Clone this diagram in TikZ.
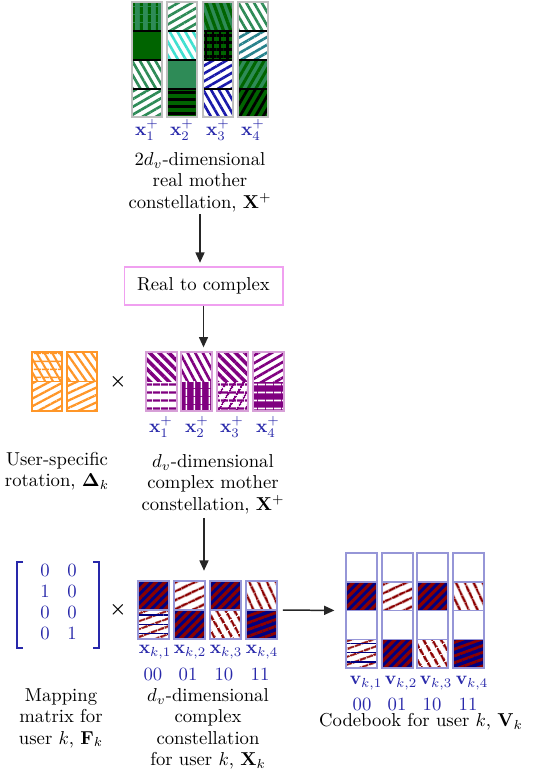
\documentclass[tikz,border=0pt]{standalone}
\usepackage{amsmath}
\usetikzlibrary{patterns.meta,arrows.meta,fit}
\definecolor{sgreen}{RGB}{46,139,87}
\definecolor{dgreen}{RGB}{0,100,0}
\definecolor{cyanl}{RGB}{64,224,208}
\definecolor{tealc}{RGB}{40,130,140}
\definecolor{bluec}{RGB}{25,25,170}
\definecolor{orangec}{RGB}{255,150,40}
\definecolor{purp}{RGB}{128,0,128}
\definecolor{purpl}{RGB}{215,160,215}
\definecolor{navyc}{RGB}{0,0,128}
\definecolor{dred}{RGB}{139,0,0}
\definecolor{lblue}{RGB}{150,150,215}
\definecolor{lblc}{RGB}{40,40,170}
\definecolor{pinkc}{RGB}{240,160,240}
\tikzset{
  pl/.style n args={4}{pattern={Lines[angle=#1,distance=#3,line width=#4]},pattern color=#2},
  np/.style={fill=none},
  arr/.style={line width=0.8pt,draw=black!85,-{Triangle[length=5.5pt,width=4.8pt]}},
  lbl/.style={text=lblc,inner sep=0pt},
  txt/.style={align=center,font=\fontsize{10}{11.5}\selectfont,inner sep=1pt},
}
\newcommand{\cbox}[7]{\fill[#5] (#1,#2) rectangle (#3,#4); \fill[#6] (#1,#2) rectangle (#3,#4); \fill[#7] (#1,#2) rectangle (#3,#4);}
\newcommand{\xkAa}[4]{\cbox{#1}{#2}{#3}{#4}{fill=navyc}{pl={45}{dred}{3.4pt}{1.7pt}}{np}}
\newcommand{\xkAb}[4]{\cbox{#1}{#2}{#3}{#4}{fill=white}{pl={20}{dred}{4pt}{1.4pt}}{pl={0}{navyc}{5pt}{0.7pt}}}
\newcommand{\xkBa}[4]{\cbox{#1}{#2}{#3}{#4}{fill=white}{pl={25}{dred}{4pt}{1.4pt}}{np}}
\newcommand{\xkCb}[4]{\cbox{#1}{#2}{#3}{#4}{fill=white}{pl={-60}{dred}{4pt}{1.5pt}}{np}}
\newcommand{\xkDa}[4]{\cbox{#1}{#2}{#3}{#4}{fill=white}{pl={-65}{dred}{4pt}{1.4pt}}{np}}
\newcommand{\xkDb}[4]{\cbox{#1}{#2}{#3}{#4}{fill=navyc}{pl={20}{dred}{3.4pt}{1.5pt}}{np}}
\begin{document}
\begin{tikzpicture}[x=0.535pt,y=-0.535pt]
\useasboundingbox (0,0) rectangle (542,774);
\fill[white] (0,0) rectangle (542,774);
% ---------- green mother constellation ----------
\cbox{132}{2}{162}{31}{fill=sgreen}{pl={90}{dgreen}{4pt}{1.7pt}}{np}
\cbox{132}{31}{162}{60}{fill=dgreen}{np}{np}
\cbox{132}{60}{162}{89}{fill=white}{pl={-60}{sgreen}{3.6pt}{1.4pt}}{np}
\cbox{132}{89}{162}{117}{fill=white}{pl={30}{sgreen}{3.6pt}{1.4pt}}{np}
\cbox{167}{2}{197}{31}{fill=white}{pl={30}{sgreen}{3.6pt}{1.4pt}}{np}
\cbox{167}{31}{197}{60}{fill=white}{pl={-60}{cyanl}{3.6pt}{1.4pt}}{np}
\cbox{167}{60}{197}{89}{fill=sgreen}{np}{np}
\cbox{167}{89}{197}{117}{fill=dgreen}{pl={0}{black}{3.8pt}{1.5pt}}{np}
\cbox{203}{2}{233}{31}{fill=sgreen}{pl={-70}{dgreen}{3.6pt}{1.7pt}}{np}
\cbox{203}{31}{233}{60}{fill=dgreen}{pl={0}{black}{3.8pt}{1.3pt}}{pl={90}{black}{3.8pt}{1.3pt}}
\cbox{203}{60}{233}{89}{fill=white}{pl={30}{bluec}{3.6pt}{1.4pt}}{np}
\cbox{203}{89}{233}{117}{fill=white}{pl={-60}{bluec}{3.6pt}{1.4pt}}{np}
\cbox{238}{2}{268}{31}{fill=white}{pl={-60}{sgreen}{3.6pt}{1.4pt}}{np}
\cbox{238}{31}{268}{60}{fill=white}{pl={30}{tealc}{3.6pt}{1.4pt}}{np}
\cbox{238}{60}{268}{89}{fill=sgreen}{pl={60}{dgreen}{3.6pt}{1.6pt}}{np}
\cbox{238}{89}{268}{117}{fill=dgreen}{pl={60}{black}{3.6pt}{1.5pt}}{np}
\foreach \x in {132,167,203,238}{
  \draw[black,line width=0.6pt] (\x,31) -- ++(30,0) (\x,60) -- ++(30,0) (\x,89) -- ++(30,0);
  \draw[gray!50,line width=1.4pt] (\x,2) rectangle ++(30,115);
}
\foreach \i/\x in {1/147,2/182,3/218,4/253}
  \node[lbl] (tl\i) at (\x,130) {$\mathbf{x}_{\i}^{+}$};
\node[txt] (toptext) at (200,182) {$2d_v$-dimensional\\real mother\\constellation, $\mathbf{X}^{+}$};
% ---------- real to complex ----------
\node[draw=pinkc,line width=0.6pt,minimum width=85pt,minimum height=20.3pt,inner sep=0pt] (r2c) at (203.5,286) {Real to complex};
% ---------- rotation (orange) ----------
\cbox{32}{352}{62}{381.5}{fill=white}{pl={-60}{orangec}{3.6pt}{1.1pt}}{pl={0}{orangec}{4pt}{0.9pt}}
\cbox{32}{381.5}{62}{411}{fill=white}{pl={28}{orangec}{3.6pt}{1.2pt}}{np}
\cbox{67}{352}{97}{381.5}{fill=white}{pl={-55}{orangec}{3.6pt}{1.2pt}}{np}
\cbox{67}{381.5}{97}{411}{fill=white}{pl={25}{orangec}{3.6pt}{1.2pt}}{np}
\foreach \x in {32,67}{
  \draw[orangec,line width=0.7pt] (\x,381.5) -- ++(30,0);
  \draw[orangec,line width=0.9pt] (\x,352) rectangle ++(30,59);
}
\node (times1) at (118,382) {$\boldsymbol{\times}$};
% ---------- purple complex mother constellation ----------
\cbox{146}{352}{177}{381.5}{fill=white}{pl={-45}{purp}{3.6pt}{1.9pt}}{np}
\cbox{146}{381.5}{177}{411}{fill=white}{pl={0}{purp}{4pt}{1.3pt}}{np}
\cbox{181}{352}{212}{381.5}{fill=white}{pl={-62}{purp}{3.6pt}{1.4pt}}{np}
\cbox{181}{381.5}{212}{411}{fill=purp}{pl={90}{white}{4pt}{0.8pt}}{np}
\cbox{217}{352}{248}{381.5}{fill=white}{pl={-45}{purp}{3.6pt}{1.9pt}}{np}
\cbox{217}{381.5}{248}{411}{fill=white}{pl={0}{purp}{4pt}{1.2pt}}{pl={60}{purp}{4pt}{1.2pt}}
\cbox{253}{352}{284}{381.5}{fill=white}{pl={30}{purp}{3.6pt}{1.4pt}}{np}
\cbox{253}{381.5}{284}{411}{fill=purp}{pl={0}{white}{4pt}{0.9pt}}{np}
\foreach \x in {146,181,217,253}
  \draw[purpl,line width=1.2pt] (\x,352) rectangle ++(31,59);
\coordinate (cmtop) at (215,352);
\foreach \i/\x in {1/161,2/197,3/232,4/268}
  \node[lbl] (ml\i) at (\x,427) {$\mathbf{x}_{\i}^{+}$};
\node[txt] (rottext) at (57,471) {User-specific\\rotation, $\boldsymbol{\Delta}_k$};
\node[txt] (cmtext) at (213,484) {$d_v$-dimensional\\complex mother\\constellation, $\mathbf{X}^{+}$};
% ---------- mapping matrix ----------
\node[text=lblc,inner sep=0pt] (fk) at (58.5,604) {$\renewcommand{\arraystretch}{0.93}\begin{array}{@{}c@{\hspace{9.4pt}}c@{}}0&0\\1&0\\0&0\\0&1\end{array}$};
\draw[lblc,line width=0.9pt] (23,562) -| (17,648) -- (23,648);
\draw[lblc,line width=0.9pt] (93,562) -| (99,648) -- (93,648);
\node (times2) at (118,610) {$\boldsymbol{\times}$};
\node[txt] (fktext) at (61,718) {Mapping\\matrix for\\user $k$, $\mathbf{F}_k$};
% ---------- X_k ----------
\xkAa{138}{581}{169}{610}
\xkAb{138}{610}{169}{639}
\xkBa{174}{581}{205}{610}
\xkAa{174}{610}{205}{639}
\xkAa{210}{581}{241}{610}
\xkCb{210}{610}{241}{639}
\xkDa{246}{581}{277}{610}
\xkDb{246}{610}{277}{639}
\foreach \x in {138,174,210,246}{
  \draw[lblue,line width=0.8pt] (\x,610) -- ++(31,0);
  \draw[lblue,line width=1.2pt] (\x,581) rectangle ++(31,58);
}
\coordinate (xktop) at (204,581);
\coordinate (xkright) at (277,610);
\foreach \i/\x/\b in {1/155/00,2/190/01,3/226/10,4/262/11}{
  \node[lbl] (xl\i) at (\x,652) {$\mathbf{x}_{k,\i}$};
  \node[lbl] (xb\i) at (\x-2,674) {\b};
}
\node[txt] (xktext) at (208,729) {$d_v$-dimensional\\complex\\constellation\\for user $k$, $\mathbf{X}_k$};
% ---------- V_k ----------
\xkAa{346}{581.75}{377}{610.5}
\xkAb{346}{639.25}{377}{668}
\xkBa{382}{581.75}{413}{610.5}
\xkAa{382}{639.25}{413}{668}
\xkAa{417}{581.75}{448}{610.5}
\xkCb{417}{639.25}{448}{668}
\xkDa{453}{581.75}{484}{610.5}
\xkDb{453}{639.25}{484}{668}
\foreach \x in {346,382,417,453}{
  \draw[lblue,line width=0.8pt] (\x,581.75) -- ++(31,0) (\x,610.5) -- ++(31,0) (\x,639.25) -- ++(31,0);
  \draw[lblue,line width=1.2pt] (\x,553) rectangle ++(31,115);
}
\coordinate (vkleft) at (346,610.5);
\foreach \i/\x in {1/366,2/401,3/436,4/472}
  \node[lbl] (vl\i) at (\x,683) {$\mathbf{v}_{k,\i}$};
\foreach \i/\x/\b in {1/362/00,2/397/01,3/432/10,4/468/11}
  \node[lbl] (vb\i) at (\x,704) {\b};
\node[txt] (vktext) at (421,722) {Codebook for user $k$, $\mathbf{V}_k$};
% ---------- arrows ----------
\draw[arr,shorten >=2pt] (toptext.south) -- (toptext.south |- r2c.north);
\draw[arr,shorten >=2.5pt] (r2c.south) -- (r2c.south |- cmtop);
\draw[arr,shorten <=1pt,shorten >=5.5pt] (cmtext.south -| xktop) -- (xktop);
\draw[arr,shorten <=3.2pt,shorten >=6.2pt] (xkright) -- (vkleft);
\end{tikzpicture}
\end{document}
